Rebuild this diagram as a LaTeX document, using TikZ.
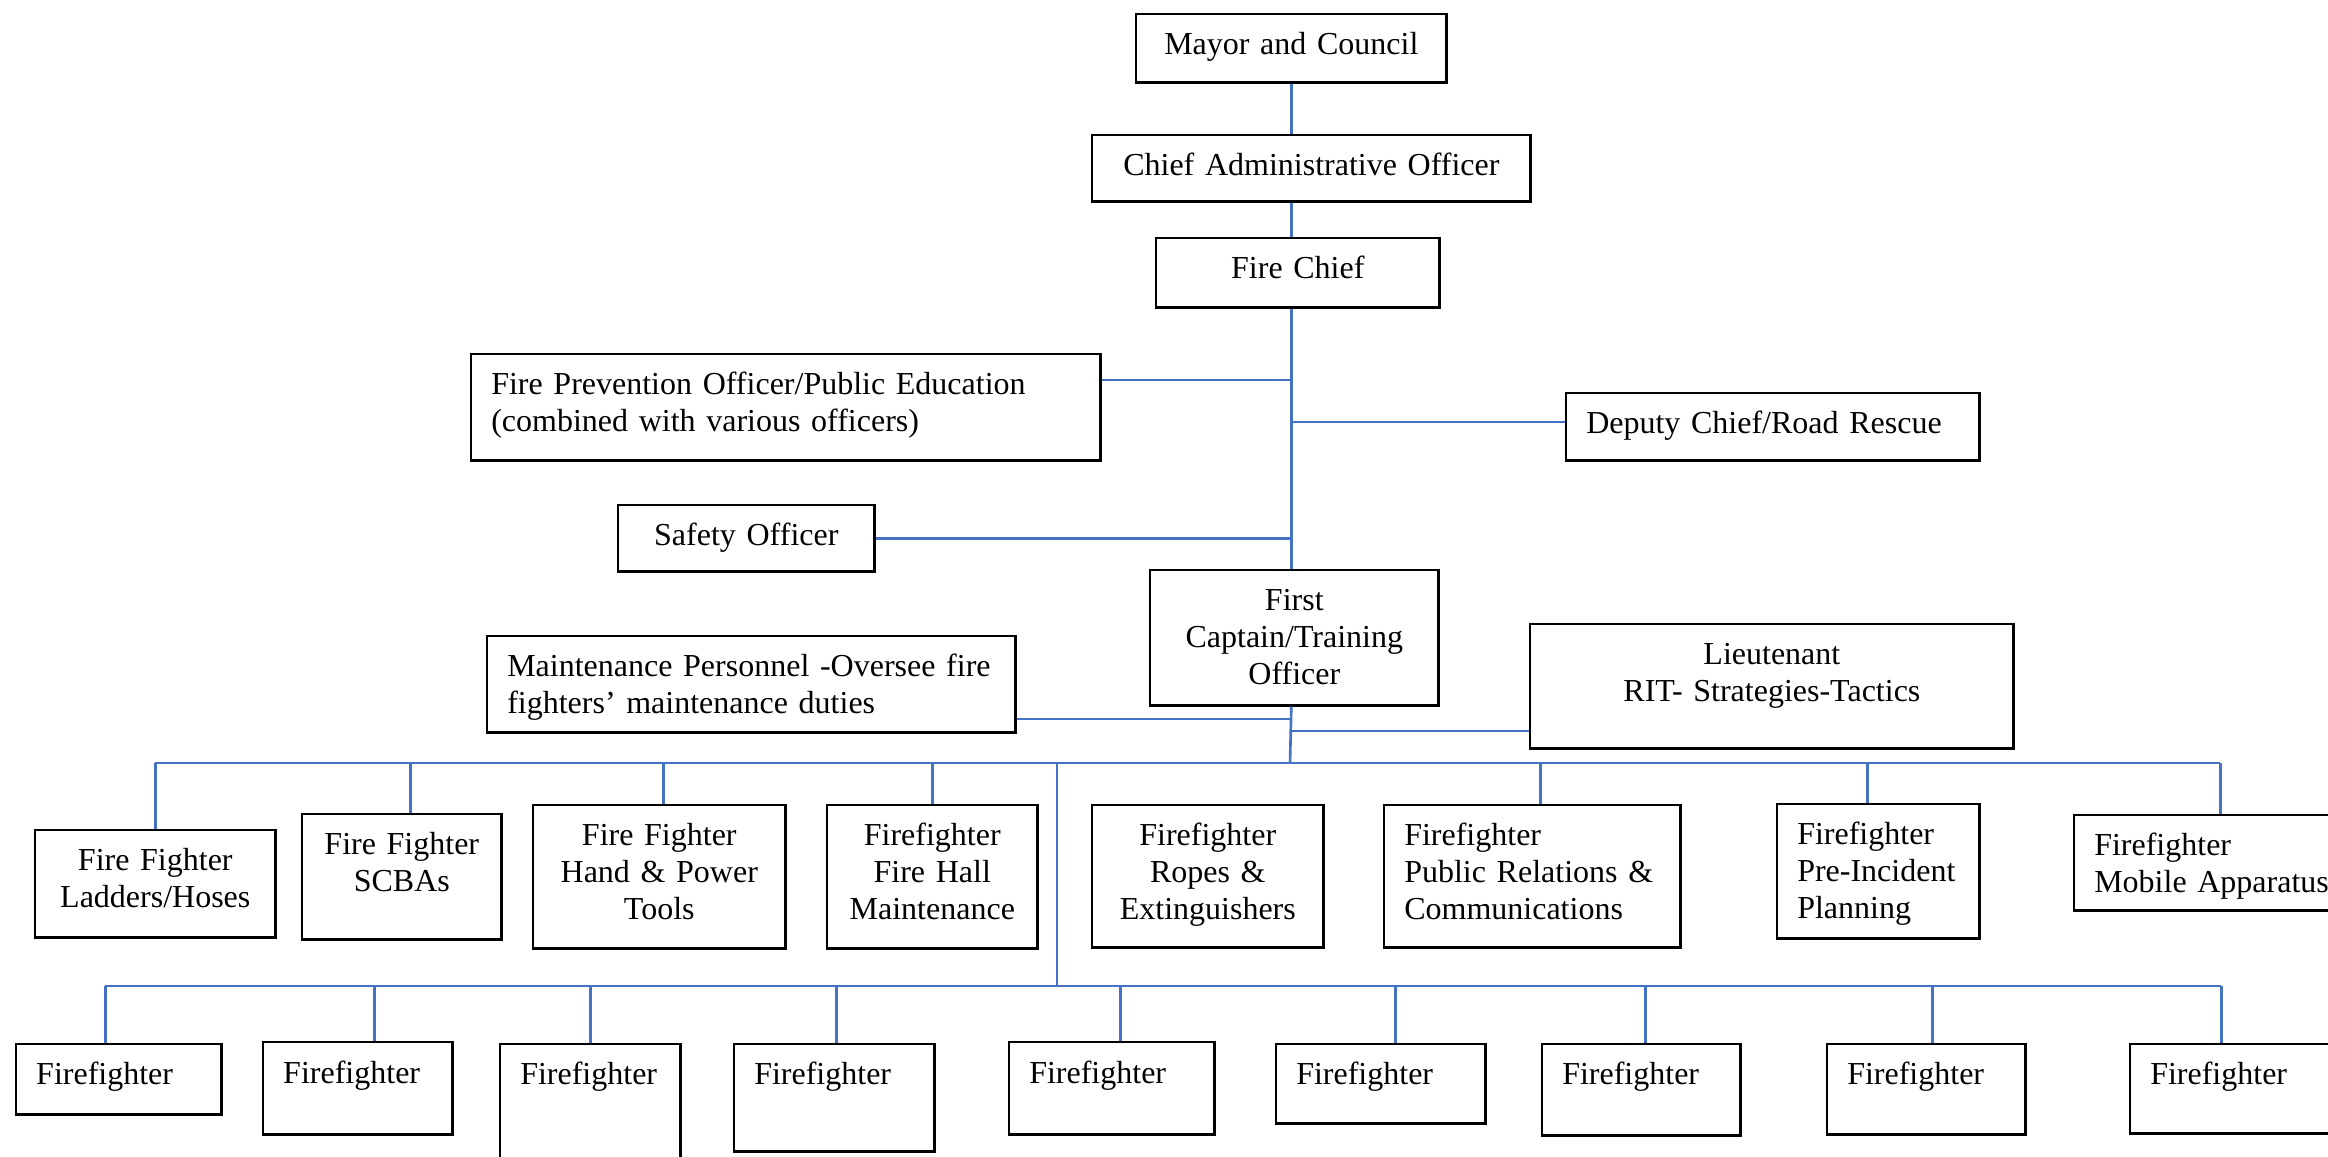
\documentclass[tikz,border=0pt]{standalone}
\usepackage{fontspec}
\setmainfont{Liberation Serif}
\usetikzlibrary{shadows}
\definecolor{linkblue}{RGB}{68,114,196}

\begin{document}
\begin{tikzpicture}[x=0.01cm, y=-0.01cm,
  every node/.style={font=\fontsize{9.1}{10.5}\selectfont},
  box/.style={rectangle, draw, fill=white, line width=0.7pt, anchor=north west,
    inner ysep=0pt, text height=0.40cm,
    drop shadow={shadow xshift=0.5pt, shadow yshift=-0.5pt, fill=black!35, opacity=1}},
  cbox/.style={box, align=center, inner xsep=0pt},
  lbox/.style={box, align=left, inner xsep=0.2cm},
  link/.style={draw=linkblue, line width=0.75pt}]
\useasboundingbox (0,0) rectangle (2328,1156);
\node [cbox, text width=3.10cm, text depth=0.28cm] (mayor) at (1135,13) {Mayor and Council};
\node [cbox, text width=4.38cm, text depth=0.26cm] (cao) at (1091,134) {Chief Administrative Officer};
\node [cbox, text width=2.83cm, text depth=0.29cm] (chief) at (1155,237) {Fire Chief};
\node [lbox, text width=5.89cm, text depth=0.66cm] (prevention) at (470,353) {Fire Prevention Officer/Public Education\\(combined with various officers)};
\node [lbox, text width=3.73cm, text depth=0.27cm] (deputy) at (1565,392) {Deputy Chief/Road Rescue};
\node [cbox, text width=2.56cm, text depth=0.26cm] (safety) at (617,504) {Safety Officer};
\node [cbox, text width=2.88cm, text depth=0.95cm] (captain) at (1149,569) {First\\Captain/Training\\Officer};
\node [lbox, text width=4.88cm, text depth=0.56cm] (maint) at (486,635) {Maintenance Personnel -Oversee fire\\fighters’ maintenance duties};
\node [cbox, text width=4.83cm, text depth=0.84cm] (lieut) at (1529,623) {Lieutenant\\RIT- Strategies-Tactics};
\node [cbox, text width=2.40cm, text depth=0.67cm] (ladders) at (34,829) {Fire Fighter\\Ladders/Hoses};
\node [cbox, text width=1.99cm, text depth=0.85cm] (scba) at (301,813) {Fire Fighter\\SCBAs};
\node [cbox, text width=2.52cm, text depth=1.03cm] (tools) at (532,804) {Fire Fighter\\Hand \& Power\\Tools};
\node [cbox, text width=2.10cm, text depth=1.03cm] (hall) at (826,804) {Firefighter\\Fire Hall\\Maintenance};
\node [cbox, text width=2.31cm, text depth=1.02cm] (ropes) at (1091,804) {Firefighter\\Ropes \&\\Extinguishers};
\node [lbox, text width=2.56cm, text depth=1.02cm] (relations) at (1383,804) {Firefighter\\Public Relations \&\\Communications};
\node [lbox, text width=1.62cm, text depth=0.94cm] (planning) at (1776,803) {Firefighter\\Pre-Incident\\Planning};
\node [lbox, text width=2.52cm, text depth=0.55cm] (apparatus) at (2073,814) {Firefighter\\Mobile Apparatus};
\node [lbox, text width=1.65cm, text depth=0.30cm] (ff1) at (15,1043) {Firefighter};
\node [lbox, text width=1.49cm, text depth=0.51cm, text height=0.41cm] (ff2) at (262,1041) {Firefighter};
\node [lbox, text width=1.40cm, text depth=0.97cm] (ff3) at (499,1043) {Firefighter};
\node [lbox, text width=1.60cm, text depth=0.67cm] (ff4) at (733,1043) {Firefighter};
\node [lbox, text width=1.65cm, text depth=0.51cm, text height=0.41cm] (ff5) at (1008,1041) {Firefighter};
\node [lbox, text width=1.69cm, text depth=0.39cm] (ff6) at (1275,1043) {Firefighter};
\node [lbox, text width=1.58cm, text depth=0.51cm] (ff7) at (1541,1043) {Firefighter};
\node [lbox, text width=1.58cm, text depth=0.50cm] (ff8) at (1826,1043) {Firefighter};
\node [lbox, text width=1.91cm, text depth=0.49cm] (ff9) at (2129,1043) {Firefighter};
\coordinate (j1) at (1290,380);
\coordinate (j2) at (1290,719);
\coordinate (j3) at (1290,731);
\coordinate (j4) at (1290,422);
\coordinate (bus1) at (1290,763);
\coordinate (fork1) at (1057,763);
\coordinate (fork2) at (1057,986);
\draw [link] (mayor.south) -- (mayor.south |- cao.north);
\draw [link] (cao.south -| mayor.south) -- (chief.north -| mayor.south);
\draw [link] (chief.south -| mayor.south) -- (captain.north -| mayor.south);
\draw [link] (captain.south -| mayor.south) -- (bus1);
\draw [link] (prevention.east |- j1) -- (j1);
\draw [link] (deputy.west |- j4) -- (j4);
\draw [link] (safety.east) -- (safety.east -| mayor.south);
\draw [link] (maint.east |- j2) -- (j2);
\draw [link] (lieut.west |- j3) -- (j3);
\draw [link] (ladders.north |- bus1) -- (apparatus.north |- bus1);
\draw [link] (ladders.north) -- (ladders.north |- bus1);
\draw [link] ([xshift=0.085cm]scba.north) -- ([xshift=0.085cm]scba.north |- bus1);
\draw [link] ([xshift=0.04cm]tools.north) -- ([xshift=0.04cm]tools.north |- bus1);
\draw [link] (hall.north) -- (hall.north |- bus1);
\draw [link] ([xshift=0.08cm]relations.north) -- ([xshift=0.08cm]relations.north |- bus1);
\draw [link] ([xshift=-0.11cm]planning.north) -- ([xshift=-0.11cm]planning.north |- bus1);
\draw [link] (apparatus.north) -- (apparatus.north |- bus1);
\draw [link] (fork1) -- (fork2);
\draw [link] ([xshift=-0.135cm]ff1.north |- fork2) -- ([xshift=-0.245cm]ff9.north |- fork2);
\draw [link] ([xshift=-0.135cm]ff1.north) -- ([xshift=-0.135cm]ff1.north |- fork2);
\draw [link] ([xshift=0.165cm]ff2.north) -- ([xshift=0.165cm]ff2.north |- fork2);
\draw [link] (ff3.north) -- (ff3.north |- fork2);
\draw [link] ([xshift=0.02cm]ff4.north) -- ([xshift=0.02cm]ff4.north |- fork2);
\draw [link] ([xshift=0.085cm]ff5.north) -- ([xshift=0.085cm]ff5.north |- fork2);
\draw [link] ([xshift=0.145cm]ff6.north) -- ([xshift=0.145cm]ff6.north |- fork2);
\draw [link] ([xshift=0.04cm]ff7.north) -- ([xshift=0.04cm]ff7.north |- fork2);
\draw [link] ([xshift=0.06cm]ff8.north) -- ([xshift=0.06cm]ff8.north |- fork2);
\draw [link] ([xshift=-0.245cm]ff9.north) -- ([xshift=-0.245cm]ff9.north |- fork2);
\end{tikzpicture}
\end{document}
